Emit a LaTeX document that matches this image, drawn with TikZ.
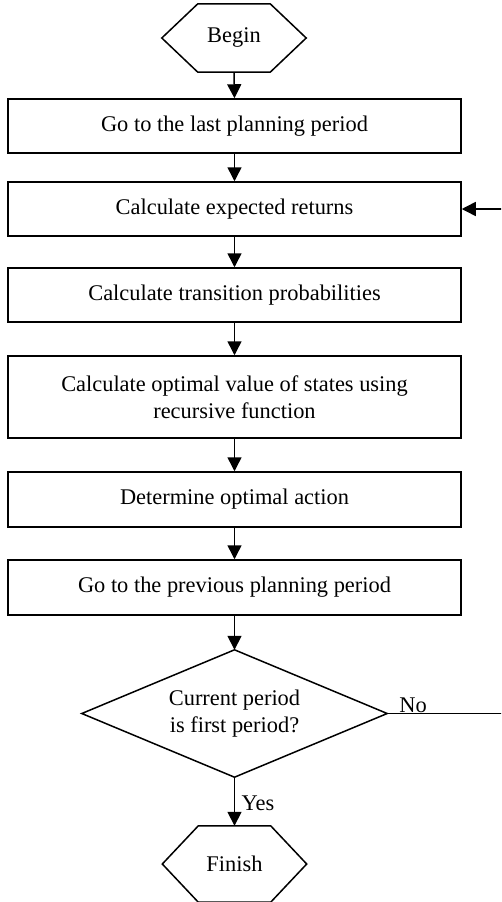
\documentclass[tikz,border=0pt]{standalone}
\usepackage{fontspec}
\setmainfont{Liberation Serif}
\usetikzlibrary{arrows.meta,calc}
\begin{document}
\begin{tikzpicture}[x=1pt,y=-1pt,
  every node/.style={font=\fontsize{22.4}{26.5}\selectfont, inner sep=0pt},
  line/.style={line width=1.5pt},
  arr/.style={line/.try, line width=1.5pt, -{Triangle[length=14pt,width=14pt]}},
  procbox/.style={draw, line width=1.5pt, minimum width=453pt, align=center},
  termbox/.style={minimum width=144pt, align=center},
  decbox/.style={minimum width=305pt, minimum height=127pt, align=center}]
\clip (0,0) rectangle (501,902);
\fill[white] (0,0) rectangle (501,902);

\node[termbox, minimum height=68pt] (begin) at (234,38) {Begin};
\draw[line] ($(begin.north west)+(36,0)$) -- ($(begin.north east)+(-36,0)$) -- (begin.east)
  -- ($(begin.south east)+(-36,0)$) -- ($(begin.south west)+(36,0)$) -- (begin.west) -- cycle;

\node[procbox, minimum height=54pt] (b1) at (234.5,126) {Go to the last planning period};
\node[procbox, minimum height=54pt] (b2) at (234.5,209) {Calculate expected returns};
\node[procbox, minimum height=54pt] (b3) at (234.5,295) {Calculate transition probabilities};
\node[procbox, minimum height=82pt] (b4) at (234.5,397) {Calculate optimal value of states using\\recursive function};
\node[procbox, minimum height=55pt] (b5) at (234.5,499.5) {Determine optimal action};
\node[procbox, minimum height=55pt] (b6) at (234.5,587.5) {Go to the previous planning period};

\node[decbox] (dec) at (234.5,713.5) {Current period\\is first period?};
\draw[line] (dec.west) -- (dec.north) -- (dec.east) -- (dec.south) -- cycle;

\node[termbox, minimum height=76pt] (finish) at (234.5,864) {Finish};
\draw[line] ($(finish.north west)+(36,0)$) -- ($(finish.north east)+(-36,0)$) -- (finish.east)
  -- ($(finish.south east)+(-36,0)$) -- ($(finish.south west)+(36,0)$) -- (finish.west) -- cycle;

\draw[arr] (begin.south) -- (b1.north);
\draw[arr] (b1.south) -- (b2.north);
\draw[arr] (b2.south) -- (b3.north);
\draw[arr] (b3.south) -- (b4.north);
\draw[arr] (b4.south) -- (b5.north);
\draw[arr] (b5.south) -- (b6.north);
\draw[arr] (b6.south) -- (dec.north);
\draw[arr] (dec.south) -- (finish.north);

\coordinate (loopR) at (540,713.5);
\draw[arr] (dec.east) -- (loopR) |- (b2.east);

\node[anchor=south west] (nolbl) at ($(dec.east)+(12,-1)$) {No};
\node[anchor=west] (yeslbl) at ($(dec.south)+(7,26)$) {Yes};
\end{tikzpicture}
\end{document}
